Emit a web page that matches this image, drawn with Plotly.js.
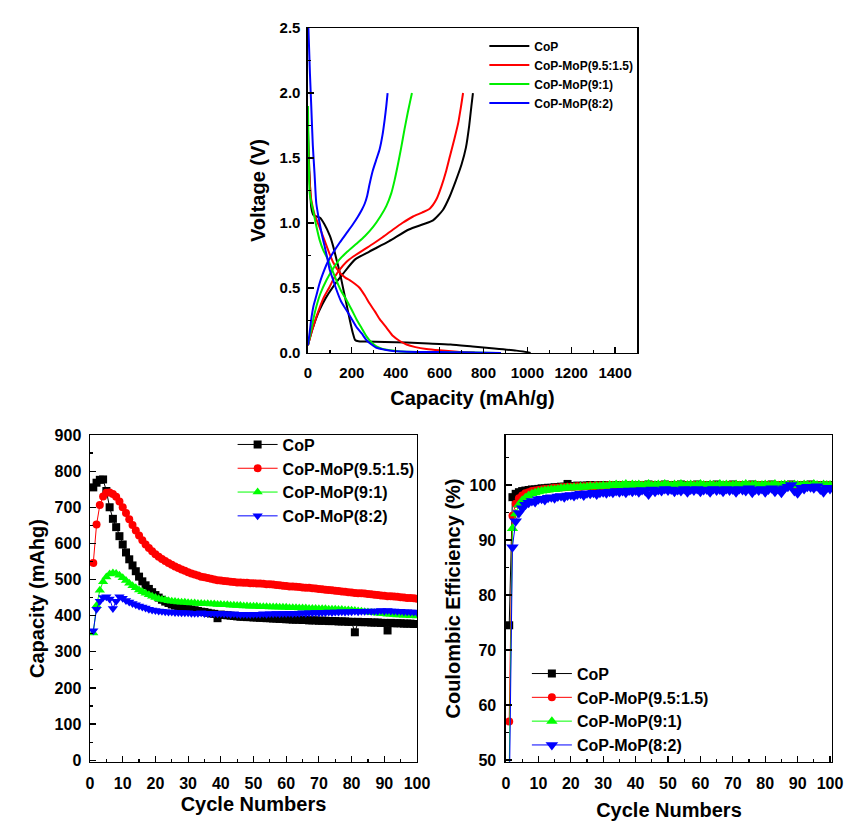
<!DOCTYPE html>
<html>
<head>
<meta charset="utf-8">
<script src="https://cdn.plot.ly/plotly-3.0.1.min.js"></script>
<style>html,body{margin:0;padding:0;background:#fff;}#chart{width:868px;height:827px;}</style>
</head>
<body>
<div id="chart"></div>
<script>
// ---------- Top: voltage profiles ----------
const seriesNames = ["CoP", "CoP-MoP(9.5:1.5)", "CoP-MoP(9:1)", "CoP-MoP(8:2)"];
const seriesColors = ["#000000", "#ff0000", "#00ee00", "#0000ff"];

const capCoPDis = [0, 4, 9, 15, 25, 40, 55, 75, 100, 115, 130, 145, 160, 175, 190, 205, 215, 230, 260, 350, 450, 550, 650, 750, 850, 950, 1000, 1015];
const vCoPDis   = [1.72, 1.5, 1.3, 1.12, 1.06, 1.05, 1.04, 0.99, 0.9, 0.82, 0.72, 0.62, 0.5, 0.38, 0.26, 0.15, 0.1, 0.09, 0.088, 0.085, 0.08, 0.073, 0.065, 0.05, 0.035, 0.018, 0.006, 0.0];
const capCoPChg = [0, 20, 50, 80, 115, 160, 215, 280, 370, 460, 525, 570, 615, 645, 675, 700, 720, 735, 745, 752];
const vCoPChg   = [0.06, 0.18, 0.32, 0.42, 0.51, 0.61, 0.72, 0.78, 0.86, 0.95, 0.99, 1.02, 1.1, 1.2, 1.33, 1.45, 1.58, 1.75, 1.9, 2.0];

const capM95Dis = [0, 5, 15, 31, 50, 68, 90, 114, 144, 170, 190, 215, 236, 260, 281, 305, 327, 360, 388, 420, 449, 490, 540, 600, 680, 760];
const vM95Dis   = [1.65, 1.4, 1.18, 1.06, 0.98, 0.9, 0.8, 0.7, 0.62, 0.58, 0.56, 0.53, 0.5, 0.44, 0.38, 0.32, 0.26, 0.19, 0.13, 0.09, 0.065, 0.045, 0.03, 0.02, 0.01, 0.004];
const capM95Chg = [0, 20, 45, 70, 99, 120, 144, 175, 205, 250, 297, 340, 388, 430, 479, 520, 555, 585, 608, 630, 648, 668, 685, 698, 707];
const vM95Chg   = [0.06, 0.18, 0.31, 0.42, 0.51, 0.58, 0.64, 0.7, 0.74, 0.79, 0.84, 0.89, 0.95, 1.0, 1.05, 1.08, 1.11, 1.18, 1.28, 1.4, 1.52, 1.65, 1.77, 1.9, 2.0];

const capM91Dis = [0, 3, 8, 15, 23, 35, 53, 70, 91, 110, 129, 150, 175, 200, 221, 245, 266, 290, 312, 340, 373, 420, 500, 600, 700, 800, 860];
const vM91Dis   = [1.9, 1.5, 1.23, 1.16, 1.1, 1.0, 0.87, 0.79, 0.72, 0.64, 0.56, 0.48, 0.41, 0.33, 0.26, 0.19, 0.13, 0.08, 0.05, 0.03, 0.02, 0.012, 0.008, 0.006, 0.004, 0.002, 0.0];
const capM91Chg = [0, 15, 31, 55, 84, 115, 144, 180, 221, 260, 297, 330, 357, 380, 395, 410, 425, 440, 455, 465, 474];
const vM91Chg   = [0.06, 0.18, 0.31, 0.45, 0.56, 0.65, 0.72, 0.78, 0.84, 0.9, 0.97, 1.05, 1.13, 1.23, 1.33, 1.45, 1.58, 1.72, 1.85, 1.93, 2.0];

const capM82Dis = [2, 5, 9, 15, 22, 30, 38, 53, 65, 76, 88, 99, 115, 129, 150, 175, 200, 221, 245, 266, 290, 312, 350, 388, 450, 550, 650, 750, 880];
const vM82Dis   = [2.5, 2.35, 2.15, 1.9, 1.6, 1.38, 1.15, 1.0, 0.9, 0.82, 0.73, 0.64, 0.56, 0.49, 0.4, 0.33, 0.26, 0.2, 0.15, 0.1, 0.065, 0.04, 0.025, 0.015, 0.01, 0.008, 0.006, 0.004, 0.0];
const capM82Chg = [0, 8, 15, 25, 38, 52, 68, 90, 114, 145, 175, 205, 228, 245, 259, 270, 281, 295, 310, 327, 340, 350, 357, 363];
const vM82Chg   = [0.06, 0.16, 0.26, 0.36, 0.44, 0.53, 0.61, 0.7, 0.77, 0.85, 0.92, 0.99, 1.05, 1.1, 1.15, 1.21, 1.3, 1.4, 1.48, 1.57, 1.68, 1.8, 1.9, 2.0];

// ---------- Bottom: cycling ----------
const cycles = [];
for (let i = 1; i <= 100; i++) cycles.push(i);

const capCoP = [755, 768, 776, 777, 745, 700, 668, 645, 620, 597,
  575, 556, 539, 523, 508, 495, 484, 474, 465, 457,
  450, 444, 439, 435, 431, 428, 425, 423, 421, 419,
  417, 415, 413, 411, 410, 408, 406, 405, 393, 403,
  402, 401, 400, 399, 398, 397, 397, 396, 396, 395,
  395, 394, 394, 393, 393, 392, 392, 391, 391, 390,
  390, 389, 389, 389, 388, 388, 387, 387, 387, 386,
  386, 386, 385, 385, 385, 384, 384, 384, 383, 383,
  354, 383, 382, 382, 382, 381, 381, 381, 380, 380,
  359, 380, 379, 379, 379, 378, 378, 378, 377, 377];
const capM95 = [546, 652, 706, 730, 740, 741, 737, 729, 716, 700,
  684, 667, 651, 636, 622, 609, 597, 587, 578, 570,
  563, 557, 551, 546, 541, 536, 532, 528, 524, 520,
  517, 514, 511, 508, 506, 504, 502, 500, 498, 497,
  496, 495, 494, 493, 492, 492, 491, 491, 490, 490,
  489, 489, 488, 487, 487, 486, 485, 484, 483, 482,
  481, 481, 480, 479, 478, 477, 477, 476, 475, 474,
  473, 472, 471, 470, 469, 468, 467, 466, 465, 464,
  463, 462, 462, 461, 460, 459, 458, 457, 456, 455,
  454, 454, 453, 452, 451, 450, 449, 449, 448, 447];
const capM91 = [352, 428, 470, 494, 507, 515, 518, 517, 512, 505,
  497, 490, 483, 477, 471, 466, 462, 458, 454, 450,
  447, 445, 443, 441, 440, 439, 438, 437, 437, 436,
  435, 435, 434, 434, 433, 433, 432, 432, 431, 431,
  430, 430, 429, 429, 428, 428, 427, 427, 426, 426,
  426, 425, 425, 425, 424, 424, 424, 423, 423, 423,
  422, 422, 422, 421, 421, 421, 420, 420, 420, 419,
  419, 419, 418, 418, 418, 417, 417, 416, 416, 415,
  414, 413, 412, 411, 410, 409, 408, 407, 406, 405,
  404, 404, 403, 402, 402, 401, 401, 400, 400, 399];
const capM82 = [358, 418, 440, 450, 452, 446, 420, 440, 452, 448,
  442, 438, 434, 430, 427, 424, 421, 418, 416, 414,
  413, 412, 411, 410, 410, 409, 409, 408, 408, 408,
  407, 407, 407, 408, 406, 407, 406, 406, 405, 406,
  405, 405, 404, 405, 404, 403, 404, 403, 403, 404,
  404, 404, 405, 404, 405, 405, 406, 405, 406, 406,
  407, 406, 407, 407, 408, 407, 408, 408, 409, 408,
  409, 409, 410, 409, 410, 410, 411, 410, 411, 411,
  412, 411, 412, 412, 413, 412, 413, 413, 414, 413,
  414, 413, 413, 412, 412, 411, 411, 410, 410, 409];

const ceCoP = [74.5, 97.8, 98.4, 98.7, 98.9, 99.0, 99.1, 99.2, 99.2, 99.3,
  99.4, 99.4, 99.5, 99.5, 99.6, 99.6, 99.7, 99.7, 100.2, 99.8,
  99.8, 99.9, 99.8, 99.9, 99.9, 100.0, 99.9, 99.9, 100.0, 99.9,
  100.0, 99.9, 100.0, 100.0, 99.9, 100.0, 100.0, 99.9, 100.0, 100.0,
  100.0, 99.9, 100.0, 100.1, 100.0, 99.9, 100.0, 100.0, 100.1, 100.0,
  99.9, 100.0, 100.0, 100.1, 100.0, 100.0, 99.9, 100.0, 100.1, 100.0,
  100.0, 99.9, 100.0, 100.0, 100.1, 100.0, 99.9, 100.0, 100.0, 100.1,
  100.0, 99.9, 100.0, 100.0, 100.0, 100.1, 99.9, 100.0, 100.0, 99.8,
  100.0, 100.1, 99.9, 100.0, 100.0, 99.9, 100.0, 100.1, 99.9, 99.8,
  100.0, 100.0, 99.9, 100.1, 100.0, 99.9, 100.0, 100.0, 99.9, 100.0];
const ceM95 = [57.0, 94.4, 96.6, 97.6, 98.1, 98.5, 98.7, 98.9, 99.0, 99.1,
  99.2, 99.3, 99.3, 99.4, 99.5, 99.5, 99.6, 99.6, 99.7, 99.7,
  99.7, 99.8, 99.7, 99.8, 99.8, 99.9, 99.8, 99.9, 99.9, 99.8,
  99.9, 100.0, 99.9, 99.8, 99.9, 100.0, 99.9, 99.9, 100.0, 99.9,
  99.9, 100.0, 99.9, 99.9, 100.0, 99.8, 99.9, 100.0, 99.9, 100.0,
  99.9, 99.9, 100.0, 99.9, 99.8, 100.0, 99.9, 100.0, 99.9, 99.9,
  100.0, 99.9, 99.9, 100.0, 99.8, 99.9, 100.0, 99.9, 100.0, 99.9,
  99.9, 100.0, 99.9, 99.8, 100.0, 99.9, 99.9, 100.0, 99.9, 99.9,
  100.0, 99.9, 99.9, 100.0, 99.8, 99.9, 100.0, 99.9, 99.9, 100.0,
  99.9, 99.9, 100.0, 99.9, 99.8, 100.0, 99.9, 99.9, 100.0, 99.9];
const ceM91 = [48.0, 92.1, 94.8, 96.4, 97.2, 97.7, 98.1, 98.4, 98.6, 98.8,
  98.9, 99.0, 99.1, 99.2, 99.2, 99.3, 99.4, 99.4, 99.5, 99.5,
  99.6, 99.5, 99.7, 99.6, 99.7, 99.8, 99.7, 99.8, 99.8, 99.9,
  99.8, 100.0, 99.9, 100.1, 99.9, 100.0, 100.2, 99.9, 100.1, 100.0,
  100.1, 99.9, 100.0, 100.2, 99.9, 100.0, 100.1, 99.9, 100.2, 100.0,
  99.9, 100.1, 100.0, 100.2, 99.9, 100.0, 100.1, 99.9, 100.0, 100.2,
  100.0, 99.9, 100.1, 100.0, 99.9, 100.2, 100.0, 100.1, 99.9, 100.0,
  100.1, 99.9, 100.0, 100.2, 99.9, 100.0, 100.1, 99.9, 100.0, 100.1,
  99.9, 100.0, 100.2, 99.9, 100.0, 100.1, 100.0, 99.9, 100.1, 100.0,
  99.9, 100.1, 100.0, 99.9, 100.2, 100.0, 99.9, 100.1, 100.0, 100.0];
const ceM82 = [42.0, 88.7, 93.4, 94.9, 95.8, 96.4, 96.8, 97.1, 96.9, 97.4,
  97.5, 97.3, 97.7, 97.8, 97.6, 97.9, 98.0, 97.8, 98.1, 98.2,
  98.0, 98.3, 98.4, 98.1, 98.5, 98.4, 98.6, 98.3, 98.6, 98.7,
  98.5, 98.8, 98.6, 98.9, 98.7, 98.9, 98.6, 99.0, 98.8, 99.0,
  98.7, 99.1, 98.9, 98.3, 99.2, 98.8, 99.1, 98.9, 99.3, 99.0,
  99.2, 98.8, 99.1, 98.9, 99.3, 98.7, 99.2, 99.0, 99.3, 98.8,
  99.1, 99.2, 98.7, 99.3, 99.0, 99.2, 98.8, 99.3, 99.0, 99.2,
  98.7, 99.3, 99.1, 98.9, 99.4, 98.6, 99.2, 99.0, 99.3, 98.7,
  99.2, 99.4, 98.8, 99.3, 98.6, 99.4, 99.7, 100.0, 98.9, 98.5,
  99.5, 99.3, 99.7, 99.6, 99.4, 99.8, 99.2, 98.7, 99.5, 99.3];

const topDis = [[capCoPDis, vCoPDis], [capM95Dis, vM95Dis], [capM91Dis, vM91Dis], [capM82Dis, vM82Dis]];
const topChg = [[capCoPChg, vCoPChg], [capM95Chg, vM95Chg], [capM91Chg, vM91Chg], [capM82Chg, vM82Chg]];
const capSeries = [capCoP, capM95, capM91, capM82];
const ceSeries = [ceCoP, ceM95, ceM91, ceM82];
const markerSymbols = ["square", "circle", "triangle-up", "triangle-down"];
const markerColors = ["#000000", "#ff0000", "#00ff00", "#0000ff"];
const capMarkerSizes = [8, 8, 9, 9];
const ceMarkerSizes = [8, 8, 10, 11];

const FONT = "Liberation Sans, Arial, sans-serif";
const traces = [];

for (let i = 0; i < 4; i++) {
  traces.push({
    x: topDis[i][0].concat([null], topChg[i][0]),
    y: topDis[i][1].concat([null], topChg[i][1]),
    xaxis: "x", yaxis: "y", legend: "legend",
    mode: "lines", name: seriesNames[i],
    line: {color: seriesColors[i], width: 2, shape: "spline", smoothing: 0.6},
    connectgaps: false
  });
}
for (let i = 0; i < 4; i++) {
  traces.push({
    x: cycles, y: capSeries[i], xaxis: "x2", yaxis: "y2", legend: "legend2",
    mode: "lines+markers", name: seriesNames[i], cliponaxis: true,
    line: {color: markerColors[i], width: 1},
    marker: {symbol: markerSymbols[i], size: capMarkerSizes[i], color: markerColors[i]}
  });
}
for (let i = 0; i < 4; i++) {
  traces.push({
    x: cycles, y: ceSeries[i], xaxis: "x3", yaxis: "y3", legend: "legend3",
    mode: "lines+markers", name: seriesNames[i], cliponaxis: true,
    line: {color: markerColors[i], width: 1},
    marker: {symbol: markerSymbols[i], size: ceMarkerSizes[i], color: markerColors[i]}
  });
}

function axis(opts) {
  return Object.assign({
    showline: true, mirror: true, linecolor: "#000", linewidth: 1.5,
    showgrid: false, zeroline: false,
    ticks: "inside", ticklen: 6, tickwidth: 1.2, tickcolor: "#000",
    tickfont: {family: FONT, size: 16, color: "#000", weight: "bold"},
    ticklabelstandoff: 6
  }, opts);
}
const titleFont = {family: FONT, size: 20, color: "#000", weight: "bold"};

const layout = {
  width: 868, height: 827,
  margin: {l: 0, r: 0, t: 0, b: 0},
  paper_bgcolor: "#fff", plot_bgcolor: "#fff",
  font: {family: FONT, color: "#000"},
  xaxis: axis({domain: [0.3548, 0.7339], anchor: "y", range: [0, 1500], dtick: 200,
    minor: {dtick: 100, ticks: "inside", ticklen: 3, tickcolor: "#000"},
    tickfont: {family: FONT, size: 15, color: "#000", weight: "bold"},
    title: {text: "Capacity (mAh/g)", font: titleFont, standoff: 10}}),
  yaxis: axis({domain: [0.5732, 0.9661], anchor: "x", range: [0, 2.5], dtick: 0.5, tickformat: ".1f",
    minor: {dtick: 0.25, ticks: "inside", ticklen: 3, tickcolor: "#000"},
    tickfont: {family: FONT, size: 15, color: "#000", weight: "bold"},
    ticklabelstandoff: 3,
    title: {text: "Voltage (V)", font: titleFont, standoff: 8}}),
  xaxis2: axis({domain: [0.1037, 0.4804], anchor: "y2", range: [0, 100], dtick: 10,
    minor: {dtick: 5, ticks: "inside", ticklen: 3, tickcolor: "#000"},
    title: {text: "Cycle Numbers", font: titleFont, standoff: 6}}),
  yaxis2: axis({domain: [0.0786, 0.4740], anchor: "x2", range: [-5, 900], dtick: 100,
    minor: {dtick: 50, ticks: "inside", ticklen: 3, tickcolor: "#000"},
    ticklabelstandoff: 4,
    title: {text: "Capacity (mAhg)", font: titleFont, standoff: 4}}),
  xaxis3: axis({domain: [0.5829, 0.9585], anchor: "y3", range: [0, 100.6], dtick: 10,
    minor: {dtick: 5, ticks: "inside", ticklen: 3, tickcolor: "#000"},
    title: {text: "Cycle Numbers", font: titleFont, standoff: 12}}),
  yaxis3: axis({domain: [0.0786, 0.4740], anchor: "x3", range: [49.64, 109.1], dtick: 10,
    minor: {dtick: 5, ticks: "inside", ticklen: 3, tickcolor: "#000"},
    ticklabelstandoff: 5,
    title: {text: "Coulombic Efficiency (%)", font: titleFont, standoff: 3}}),
  legend: {x: 0.558, y: 0.962, xanchor: "left", yanchor: "top", bgcolor: "rgba(0,0,0,0)",
    font: {family: FONT, size: 12, color: "#000", weight: "bold"}, itemwidth: 40, tracegroupgap: 0},
  legend2: {x: 0.268, y: 0.483, xanchor: "left", yanchor: "top", bgcolor: "rgba(0,0,0,0)",
    font: {family: FONT, size: 16, color: "#000", weight: "bold"}, itemwidth: 40},
  legend3: {x: 0.607, y: 0.206, xanchor: "left", yanchor: "top", bgcolor: "rgba(0,0,0,0)",
    font: {family: FONT, size: 16, color: "#000", weight: "bold"}, itemwidth: 40},
  showlegend: true
};

Plotly.newPlot("chart", traces, layout, {staticPlot: true, displayModeBar: false});
</script>
</body>
</html>
